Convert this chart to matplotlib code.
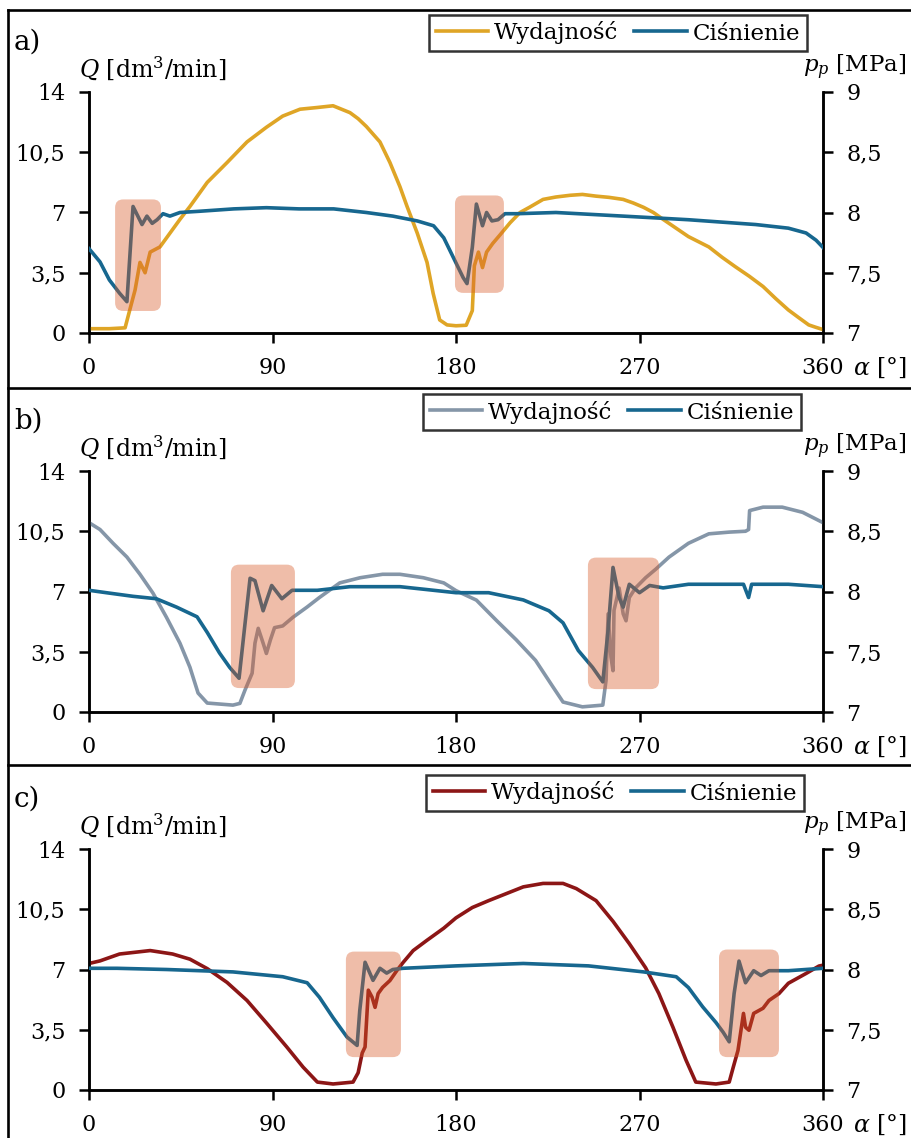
import numpy as np
import matplotlib
matplotlib.use("Agg")
import matplotlib.pyplot as plt
from matplotlib.patches import FancyBboxPatch
from matplotlib.lines import Line2D

plt.rcParams['font.family'] = ['DejaVu Serif']
plt.rcParams['mathtext.fontset'] = 'dejavuserif'

# ---- data (angle in deg, Q in dm3/min, p in MPa) ----
labels = ['a)', 'b)', 'c)']
q_name = 'Wydajność'
p_name = 'Ciśnienie'
x_ticks = [0, 90, 180, 270, 360]
q_ticks = [0, 3.5, 7, 10.5, 14]
q_ticklabels = ['0', '3,5', '7', '10,5', '14']
p_ticks = [7, 7.5, 8, 8.5, 9]
p_ticklabels = ['7', '7,5', '8', '8,5', '9']

a_q_ang = [0, 10, 17.7, 20, 22.6, 25, 27.5, 30, 34.8, 39.7, 44.6, 49.5, 58, 67.7, 77.5, 87, 95,
           103.5, 112, 119.7, 128, 132, 136, 142.7, 147.6, 152.5, 156, 161, 165.8, 168.8, 172,
           175.6, 180, 185, 188, 189, 191, 193, 195, 198, 201.6, 206.5, 211.4, 216, 222.7, 229,
           236, 242, 248.7, 255, 262, 267, 272, 276.8, 281.6, 287.8, 294, 299, 304, 310.5, 317,
           323.8, 330.6, 336.8, 343, 348, 353, 356.5, 360]
a_q = [0.25, 0.25, 0.3, 1.34, 2.5, 4.1, 3.5, 4.7, 5.0, 5.8, 6.6, 7.35, 8.75, 9.9, 11.1, 11.95, 12.6,
       13.0, 13.1, 13.2, 12.8, 12.45, 12.0, 11.1, 9.9, 8.5, 7.35, 5.8, 4.1, 2.3, 0.76,
       0.47, 0.42, 0.45, 1.3, 3.9, 4.7, 3.8, 4.7, 5.2, 5.7, 6.4, 7.0, 7.3, 7.76, 7.9,
       8.0, 8.05, 7.95, 7.88, 7.76, 7.55, 7.3, 7.0, 6.6, 6.1, 5.6, 5.3, 5.0, 4.4, 3.85,
       3.3, 2.7, 2.0, 1.34, 0.9, 0.47, 0.33, 0.2]
a_p_ang = [0, 5.4, 10, 15, 18.6, 21.6, 26, 28.4, 31, 33.4, 36.3, 39.7, 44.6, 54, 71, 87, 103, 120,
           136, 149, 161, 169, 174, 178.6, 183.5, 185.4, 188, 190, 193, 195, 197.6, 200.6, 204,
           210, 229, 262, 294, 327, 343, 351.7, 356.6, 360]
a_p = [7.70, 7.59, 7.44, 7.33, 7.26, 8.05, 7.90, 7.97, 7.91, 7.94, 7.99, 7.97, 8.0, 8.01, 8.03,
       8.04, 8.03, 8.03, 8.0, 7.97, 7.93, 7.89, 7.79, 7.63, 7.46, 7.41, 7.71, 8.07, 7.89, 8.0,
       7.93, 7.94, 7.99, 7.99, 8.0, 7.97, 7.94, 7.9, 7.87, 7.83, 7.77, 7.71]

b_q_ang = [0, 5.4, 11.8, 18.6, 25, 31.4, 38, 44.6, 49.5, 53.5, 58, 70.6, 74, 76.5, 80, 81.4, 83,
           85.4, 87, 89, 91, 95, 100, 107, 113, 123, 133, 144, 152.5, 164, 174, 180, 190, 200,
           209.5, 219, 227.6, 232.5, 242, 252, 253.6, 254.6, 256, 257, 257.5, 260, 262, 263.4,
           265, 268, 273, 278, 284.5, 294, 304, 314, 322, 323.5, 324, 330.6, 340, 350, 360]
b_q = [11.0, 10.6, 9.8, 9.0, 8.0, 6.9, 5.5, 4.0, 2.6, 1.1, 0.52, 0.4, 0.5, 1.27, 2.25, 4.0, 4.86,
       4.0, 3.4, 4.2, 4.9, 5.0, 5.5, 6.1, 6.65, 7.5, 7.8, 8.0, 8.0, 7.8, 7.5, 7.05, 6.5, 5.3,
       4.2, 3.0, 1.45, 0.58, 0.3, 0.4, 1.85, 5.7, 3.2, 2.4, 5.9, 7.2, 5.7, 5.3,
       6.65, 7.2, 7.8, 8.3, 9.0, 9.8, 10.35, 10.45, 10.5, 10.6, 11.7, 11.9, 11.9, 11.6, 11.0]
b_p_ang = [0, 8.5, 21.6, 33, 43, 53, 58, 64, 69, 73.6, 76.5, 79, 81.4, 85.4, 89.6, 94.6, 99.6,
           112, 128, 152.5, 180, 196, 213, 225.6, 232.5, 240, 247, 252, 254.6, 257, 260, 262,
           265, 270, 275, 281.6, 294, 321, 323.5, 325, 343, 360]
b_p = [8.01, 7.99, 7.96, 7.94, 7.87, 7.79, 7.66, 7.49, 7.37, 7.28, 7.73, 8.11, 8.09, 7.84, 8.05,
       7.94, 8.01, 8.01, 8.04, 8.04, 7.99, 7.99, 7.93, 7.84, 7.74, 7.51, 7.37, 7.25, 7.68, 8.2,
       7.95, 7.87, 8.06, 7.99, 8.05, 8.03, 8.06, 8.06, 7.95, 8.06, 8.06, 8.04]

c_q_ang = [0, 5.4, 15, 30, 41, 49.5, 58, 67.7, 77.5, 87, 97, 105, 112, 119.7, 129.5, 132, 134,
           135.4, 137, 138.8, 140.3, 141.8, 144, 147.6, 151, 154, 159, 165.8, 174, 180, 188, 196,
           204.5, 213, 222.7, 232.5, 239, 248.7, 257, 265, 273, 279.5, 286.4, 292.8, 297.6,
           307.5, 314, 316, 318.3, 321, 322, 323.7, 326, 330.6, 333.5, 338.4, 343, 351.7, 358, 360]
c_q = [7.35, 7.5, 7.9, 8.1, 7.9, 7.6, 7.05, 6.25, 5.2, 3.9, 2.5, 1.33, 0.46, 0.35, 0.46, 1.0, 2.15,
       2.5, 5.8, 5.4, 4.8, 5.6, 5.96, 6.36, 6.94, 7.4, 8.1, 8.7, 9.4, 10.0, 10.6, 11.0,
       11.4, 11.8, 12.0, 12.0, 11.7, 11.0, 9.8, 8.5, 7.1, 5.6, 3.65, 1.74, 0.46,
       0.35, 0.46, 1.33, 2.3, 4.45, 3.65, 3.47, 4.45, 4.75, 5.2, 5.6, 6.2, 6.77, 7.2, 7.25]
c_p_ang = [0, 13.7, 38, 70.6, 95, 107, 113, 119.7, 126.5, 131.5, 132.8, 135.4, 139.3, 142.7, 146,
           149, 154, 180, 213, 245, 272, 288, 294, 301, 307.5, 311, 314, 316.4, 318.8, 322, 326,
           329.6, 333.5, 343, 360]
c_p = [8.01, 8.01, 8.0, 7.98, 7.94, 7.89, 7.77, 7.6, 7.44, 7.37, 7.66, 8.06, 7.91, 8.01, 7.97,
       8.0, 8.01, 8.03, 8.05, 8.03, 7.98, 7.94, 7.85, 7.69, 7.56, 7.48, 7.4, 7.8, 8.07, 7.89,
       7.99, 7.95, 7.99, 7.99, 8.01]

# highlighted transient windows: (start deg, end deg, Q low, Q high)
a_windows = [(12.8, 35.3, 1.28, 7.76), (179.5, 203.5, 2.33, 7.99)]
b_windows = [(69.6, 101.0, 1.39, 8.56), (244.7, 279.6, 1.33, 8.97)]
c_windows = [(126.0, 153.0, 1.91, 8.04), (309.0, 338.4, 1.91, 8.16)]

q_colors = ['#DFA526', '#8596A8', '#8C1616']
p_color = '#17678F'

panels = [
    (a_q_ang, a_q, a_p_ang, a_p, a_windows),
    (b_q_ang, b_q, b_p_ang, b_p, b_windows),
    (c_q_ang, c_q, c_p_ang, c_p, c_windows),
]

W, H = 912, 1138
fig = plt.figure(figsize=(W / 100, H / 100), dpi=100)

ax_bottom_px = [333, 712, 1090]
legend_center_px = [(618, 33), (612, 412), (615, 793)]
fs = 16
lw = 2.6

for i, (qa, qv, pa, pv, wins) in enumerate(panels):
    yb = ax_bottom_px[i]
    ax = fig.add_axes([89 / W, 1 - yb / H, 734 / W, 241 / H])
    ax2 = ax.twinx()

    l1, = ax.plot(qa, qv, color=q_colors[i], lw=lw, label=q_name, zorder=3)
    l2, = ax2.plot(pa, pv, color=p_color, lw=lw, label=p_name, zorder=3)

    ax.set_xlim(0, 360)
    ax.set_ylim(0, 14)
    ax2.set_ylim(7, 9)

    for (x0, x1, y0, y1) in wins:
        box = FancyBboxPatch((x0, y0), x1 - x0, y1 - y0,
                             boxstyle="round,pad=0,rounding_size=4",
                             mutation_aspect=0.119,
                             transform=ax.transData, facecolor='#D95C2A',
                             edgecolor='none', alpha=0.4, zorder=5)
        ax2.add_patch(box)

    for a in (ax, ax2):
        a.spines['top'].set_visible(False)
        for s in a.spines.values():
            s.set_linewidth(1.8)
            s.set_color('black')
        a.patch.set_visible(False)

    ax.set_xticks(x_ticks)
    ax.set_xticklabels([str(t) for t in x_ticks])
    ax.set_yticks(q_ticks)
    ax.set_yticklabels(q_ticklabels)
    ax2.set_yticks(p_ticks)
    ax2.set_yticklabels(p_ticklabels)
    ax.tick_params(axis='both', direction='out', length=7, width=1.8, labelsize=fs, pad=10)
    ax2.tick_params(axis='y', direction='out', length=7, width=1.8, labelsize=fs, pad=10)

    top_px = yb - 241
    fig.text(14 / W, 1 - (top_px - 50) / H, labels[i], fontsize=20, va='center', ha='left')
    fig.text(79 / W, 1 - (top_px - 23) / H, '$Q$ [dm$^3$/min]', fontsize=17,
             va='center', ha='left')
    fig.text(906 / W, 1 - (top_px - 25) / H, '$p_p$ [MPa]', fontsize=16.5,
             va='center', ha='right')
    fig.text(907 / W, 1 - (yb + 35) / H, r'$\alpha$ [°]', fontsize=17,
             va='center', ha='right')

    cx, cy = legend_center_px[i]
    leg = ax2.legend([l1, l2], [q_name, p_name], loc='center',
                     bbox_to_anchor=(cx / W, 1 - cy / H), bbox_transform=fig.transFigure,
                     ncol=2, frameon=True, fancybox=False, fontsize=16.5,
                     handlelength=2.3, handletextpad=0.25, columnspacing=0.7,
                     borderpad=0.3, borderaxespad=0)
    leg.get_frame().set_edgecolor('black')
    leg.get_frame().set_linewidth(1.8)

# outer frame and separators
lw_frame = 1.9
fig.add_artist(Line2D([8 / W, 8 / W], [0, 1 - 10 / H], color='black', lw=lw_frame))
for y in [10, 388, 765]:
    fig.add_artist(Line2D([8 / W, 1], [1 - y / H, 1 - y / H], color='black', lw=lw_frame))

fig.savefig('out.png', dpi=100)
